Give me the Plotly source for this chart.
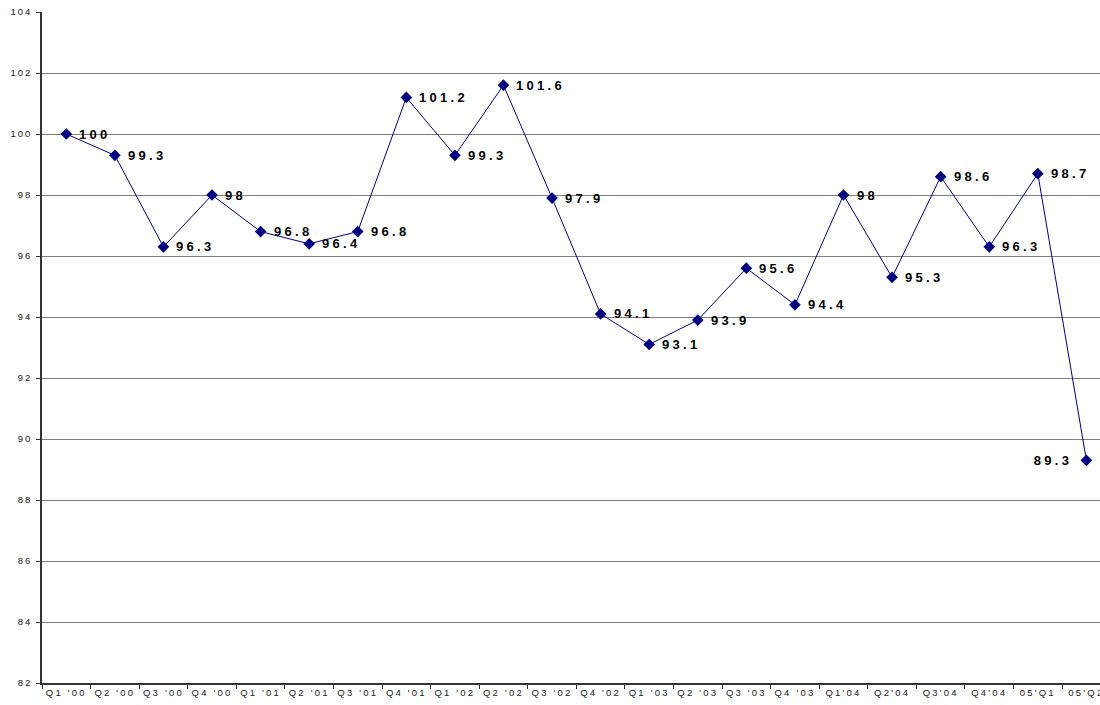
import plotly.graph_objects as go

# Quarterly index values
quarters = ["Q1 '00", "Q2 '00", "Q3 '00", "Q4 '00", "Q1 '01", "Q2 '01", "Q3 '01", "Q4 '01",
            "Q1 '02", "Q2 '02", "Q3 '02", "Q4 '02", "Q1 '03", "Q2 '03", "Q3 '03", "Q4 '03",
            "Q1'04", "Q2'04", "Q3'04", "Q4'04", "05'Q1", "05'Q2"]
index_values = [100, 99.3, 96.3, 98, 96.8, 96.4, 96.8, 101.2, 99.3, 101.6, 97.9, 94.1,
                93.1, 93.9, 95.6, 94.4, 98, 95.3, 98.6, 96.3, 98.7, 89.3]
y_ticks = [82, 84, 86, 88, 90, 92, 94, 96, 98, 100, 102, 104]

FONT = "Liberation Sans, Arial, sans-serif"

fig = go.Figure()
fig.add_trace(go.Scatter(
    x=quarters,
    y=index_values,
    mode="lines+markers",
    line=dict(color="#000080", width=1),
    marker=dict(symbol="diamond", size=9, color="#000080"),
    cliponaxis=False,
    showlegend=False,
))

# Value labels: right of each point, except the last one which sits to the left
last = len(quarters) - 1
for i, (q, v) in enumerate(zip(quarters, index_values)):
    side = "right" if i == last else "left"
    fig.add_annotation(
        x=q, y=v, text=f"{v:g}", showarrow=False,
        xanchor=side, align=side,
        yanchor="middle",
        xshift=-12 if i == last else 11,
        font=dict(family=FONT, size=13, color="#000000", weight="bold"),
    )

fig.update_layout(
    width=1100,
    height=705,
    margin=dict(l=42, r=0, t=12, b=22),
    paper_bgcolor="white",
    plot_bgcolor="white",
    font=dict(family=FONT, size=9, color="#222222"),
    xaxis=dict(
        type="category",
        range=[-0.5, 21.28],
        tickson="boundaries",
        ticks="outside",
        ticklen=4,
        tickcolor="#333333",
        showgrid=False,
        showline=True,
        linecolor="#333333",
        linewidth=1.5,
        tickfont=dict(size=9.5),
        zeroline=False,
    ),
    yaxis=dict(
        range=[82, 104],
        tickvals=y_ticks,
        ticks="outside",
        ticklen=4,
        tickcolor="#333333",
        showgrid=True,
        gridcolor="#808080",
        gridwidth=1,
        showline=True,
        linecolor="#333333",
        linewidth=1.5,
        tickfont=dict(size=9.5),
        ticklabelstandoff=2,
        zeroline=False,
    ),
)

# Wide letter spacing for axis labels and value labels
spacing_css = """
var st = document.createElement('style');
st.textContent = '.xtick text{letter-spacing:2.2px} .ytick text{letter-spacing:2px} .annotation-text{letter-spacing:3.3px}';
document.head.appendChild(st);
"""

fig.write_html("out.html", post_script=spacing_css)
